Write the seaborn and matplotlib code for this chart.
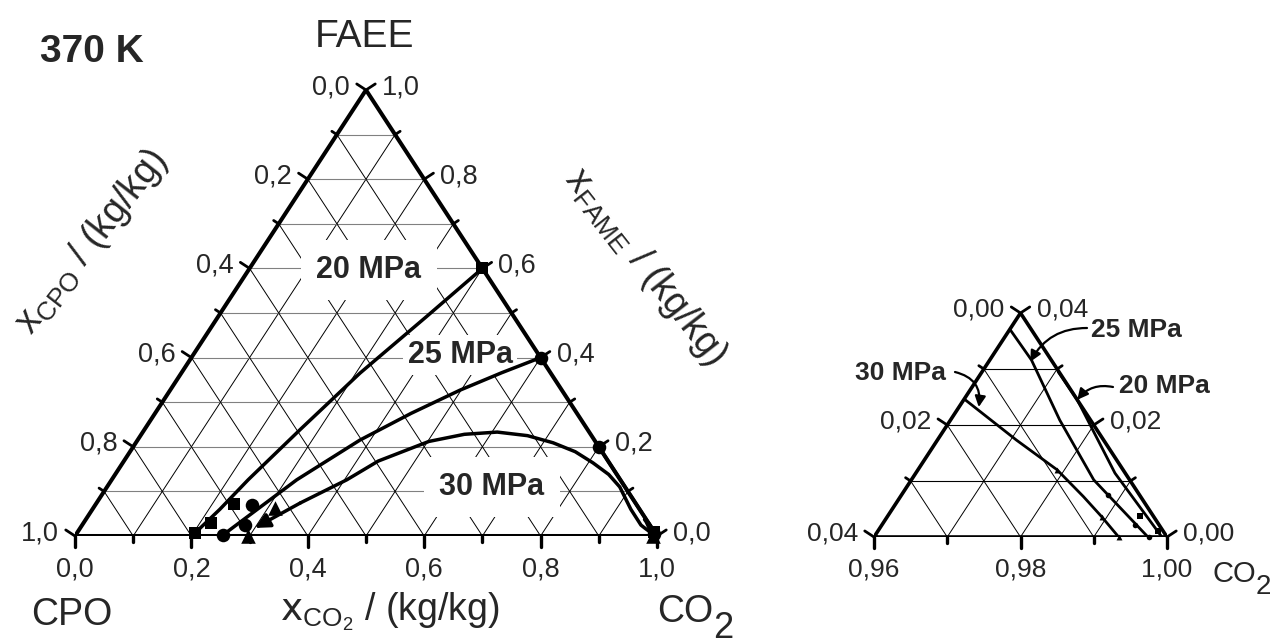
import matplotlib
matplotlib.use("Agg")
import numpy as np
import matplotlib.pyplot as plt
import seaborn as sns

sns.set_theme(style="white")
plt.rcParams["font.family"] = ["Liberation Sans", "DejaVu Sans"]
plt.rcParams["mathtext.fontset"] = "custom"
plt.rcParams["mathtext.rm"] = "Liberation Sans"
plt.rcParams["mathtext.it"] = "Liberation Sans"
plt.rcParams["mathtext.default"] = "regular"

# ---------------- data (mass fractions: x_CO2, x_FAEE) ----------------
# liquid-side branches (main diagram)
l20_co2 = [0.203, 0.219, 0.2345, 0.268, 0.307, 0.358, 0.40]
l20_faee = [0.007, 0.060, 0.126, 0.240, 0.365, 0.492, 0.60]
l25_co2 = [0.253, 0.318, 0.382, 0.440, 0.498, 0.550, 0.60]
l25_faee = [0.002, 0.126, 0.215, 0.275, 0.327, 0.366, 0.40]
l30_co2 = [0.300, 0.350, 0.404, 0.437, 0.502, 0.555, 0.609, 0.665, 0.717,
           0.765, 0.808, 0.848, 0.881, 0.925, 0.9602, 0.9708, 0.979, 0.985,
           0.9893, 0.9934]
l30_faee = [0.018, 0.074, 0.126, 0.168, 0.212, 0.228, 0.233, 0.225, 0.209,
            0.189, 0.164, 0.138, 0.110, 0.060, 0.0245, 0.0173, 0.012, 0.0072,
            0.0036, 0.0]
# vapour-side branches (CO2 corner)
v20_co2 = [0.9704, 0.9755, 0.9872, 0.9993]
v20_faee = [0.0295, 0.0245, 0.0114, 0.0]
v25_co2 = [0.9601, 0.9657, 0.9749, 0.9849, 0.9974]
v25_faee = [0.0370, 0.0316, 0.0209, 0.0102, 0.0]
# binary FAEE-CO2 edge branch
b_co2 = [0.80, 0.90, 0.96, 1.00]
b_faee = [0.20, 0.10, 0.04, 0.00]

# experimental points
sq_co2 = [0.203, 0.219, 0.237, 0.40, 0.990]
sq_faee = [0.007, 0.029, 0.072, 0.60, 0.008]
ci_co2 = [0.253, 0.280, 0.269, 0.60, 0.80, 0.992]
ci_faee = [0.002, 0.025, 0.070, 0.40, 0.20, 0.004]
tr_co2 = [0.297, 0.312, 0.993]
tr_faee = [0.000, 0.063, 0.000]
# points visible in the enlarged CO2 corner
isq_co2 = [0.9944, 0.9982]
isq_faee = [0.00375, 0.0011]
ici_co2 = [0.9882, 0.9946, 0.9975]
ici_faee = [0.0075, 0.0021, 0.0]
itr_co2 = [0.979, 0.9893, 0.9934]
itr_faee = [0.012, 0.0036, 0.0]

main_ticks = [0.0, 0.2, 0.4, 0.6, 0.8, 1.0]
inset_ticks = [0.00, 0.02, 0.04]
pressures = ["20 MPa", "25 MPa", "30 MPa"]
title = "370 K"


def cart(co2, faee):
    co2 = np.asarray(co2, float)
    faee = np.asarray(faee, float)
    return co2 + faee / 2.0, faee


W, H = 1283, 644
fig = plt.figure(figsize=(W / 100, H / 100), dpi=100)


def axes_px(x0, y0, x1, y1):
    return fig.add_axes([x0 / W, 1 - y1 / H, (x1 - x0) / W, (y1 - y0) / H])


def ftext(px, py, s, **kw):
    return fig.text(px / W, 1 - py / H, s, **kw)


def fmt(v, nd):
    return f"{v:.{nd}f}".replace(".", ",")


def draw_triangle(ax, a, L, sx, sy, nminor, ticks, nd, fs, hgray, edge_lw,
                  lab_major):
    # grid
    for k in range(1, nminor):
        f = k * L / nminor
        ax.plot([a + f / 2, a + L - f / 2], [f, f], color=hgray, lw=0.8, zorder=1)
        c = a + k * L / nminor
        x0, y0 = cart(c, 0)
        x1, y1 = cart(c, 1.0 - c)          # constant CO2 -> right edge
        ax.plot([x0, x1], [y0, y1], color="black", lw=0.7, zorder=1)
        x1, y1 = cart(a, c - a)            # constant CPO -> left edge
        ax.plot([x0, x1], [y0, y1], color="black", lw=0.7, zorder=1)
    # edges
    ax.plot([a, a + L, a + L / 2, a], [0, 0, L, 0], color="black",
            lw=edge_lw, zorder=5, solid_joinstyle="miter")
    # ticks
    dl = (-0.84, 0.55)
    dr = (0.84, 0.55)
    for k in range(nminor + 1):
        major = (k % lab_major) == 0
        ln = 11 if major else 6
        v = k * L / nminor
        ax.plot([a + v, a + v], [0, -ln / sy], color="black", lw=2.4,
                zorder=5, clip_on=False)
        x, y = a + v / 2, v
        ax.plot([x, x + dl[0] * ln / sx], [y, y + dl[1] * ln / sy],
                color="black", lw=2.0, zorder=5, clip_on=False)
        x2 = a + L - v / 2
        ax.plot([x2, x2 + dr[0] * ln / sx], [y, y + dr[1] * ln / sy],
                color="black", lw=2.0, zorder=5, clip_on=False)
    for i, t in enumerate(ticks):
        v = L * i / (len(ticks) - 1)
        ax.annotate(fmt(a + v, nd), xy=(a + v, 0), xytext=(0, -40),
                    textcoords="offset pixels", ha="center", va="baseline",
                    fontsize=fs, annotation_clip=False)
        ax.annotate(fmt(L - v, nd), xy=(a + v / 2, v), xytext=(-16, -4),
                    textcoords="offset pixels", ha="right", va="baseline",
                    fontsize=fs, annotation_clip=False)
        ax.annotate(fmt(v, nd), xy=(a + L - v / 2, v), xytext=(16, -4),
                    textcoords="offset pixels", ha="left", va="baseline",
                    fontsize=fs, annotation_clip=False)


# ---------------- main ternary ----------------
ax = axes_px(75, 90, 657, 536)
ax.set_xlim(0, 1)
ax.set_ylim(0, 1)
ax.axis("off")
draw_triangle(ax, 0.0, 1.0, 582.0, 446.0, 10, main_ticks, 1, 19.5,
              "#808080", 2.9, 2)

for c, f in [(l20_co2, l20_faee), (l25_co2, l25_faee), (l30_co2[1:], l30_faee[1:]),
             (v20_co2, v20_faee), (v25_co2, v25_faee), (b_co2, b_faee)]:
    x, y = cart(c, f)
    sns.lineplot(x=x, y=y, sort=False, estimator=None, color="black",
                 linewidth=2.5, ax=ax, zorder=6)
xa, ya = cart(l30_co2[:2], l30_faee[:2])
ax.annotate("", xy=(xa[0], ya[0]), xytext=(xa[1], ya[1]),
            arrowprops=dict(arrowstyle="-|>", color="black", lw=2.5,
                            mutation_scale=22, shrinkA=0, shrinkB=0), zorder=6)

x, y = cart(sq_co2, sq_faee)
sns.scatterplot(x=x, y=y, marker="s", s=80, color="black", edgecolor="black",
                linewidth=0, ax=ax, zorder=7, clip_on=False)
x, y = cart(ci_co2, ci_faee)
sns.scatterplot(x=x, y=y, marker="o", s=95, color="black", edgecolor="black",
                linewidth=0, ax=ax, zorder=7, clip_on=False)
x, y = cart(tr_co2, tr_faee)
sns.scatterplot(x=x, y=y, marker="^", s=110, color="black", edgecolor="black",
                linewidth=0, ax=ax, zorder=7, clip_on=False)


def atext(axx, px, py, s, **kw):
    # text placed in figure pixels but stacked with the axes artists
    return axx.text(px / W, 1 - py / H, s, transform=fig.transFigure, **kw)


box = dict(boxstyle="square,pad=0.5", fc="white", ec="none")
atext(ax, 369, 278, pressures[0], fontsize=22, fontweight="bold", ha="center",
      va="baseline", bbox=box, zorder=3)
atext(ax, 460, 363, pressures[1], fontsize=22, fontweight="bold", ha="center",
      va="baseline", bbox=dict(boxstyle="square,pad=0.15", fc="white", ec="none"),
      zorder=3)
atext(ax, 492, 495, pressures[2], fontsize=22, fontweight="bold", ha="center",
      va="baseline", bbox=box, zorder=3)

ftext(92, 62, title, fontsize=28, fontweight="bold", ha="center", va="baseline")
ftext(365, 47, "FAEE", fontsize=28, ha="center", va="baseline")
ftext(72, 625, "CPO", fontsize=27, ha="center", va="baseline")
ftext(657, 622, "CO", fontsize=27, ha="left", va="baseline")
ftext(713, 638, "2", fontsize=26, ha="left", va="baseline")
ftext(390, 612, r"$\mathsf{x}_{CO_2}$ / (kg/kg)", fontsize=27, ha="center",
      va="center")
ftext(92, 242, r"x$_{CPO}$ / (kg/kg)", fontsize=27, ha="center", va="center",
      rotation=52, rotation_mode="anchor")
ftext(645, 267, r"x$_{FAME}$ / (kg/kg)", fontsize=27, ha="center", va="center",
      rotation=-52, rotation_mode="anchor")

# ---------------- CO2 corner enlargement ----------------
axi = axes_px(874, 313, 1167, 537)
axi.set_xlim(0.96, 1.0)
axi.set_ylim(0, 0.04)
axi.axis("off")
draw_triangle(axi, 0.96, 0.04, 293 / 0.04, 224 / 0.04, 4, inset_ticks, 2, 19,
              "black", 2.6, 2)

for c, f in [(l30_co2[14:], l30_faee[14:]), (v20_co2, v20_faee),
             (v25_co2, v25_faee)]:
    x, y = cart(c, f)
    sns.lineplot(x=x, y=y, sort=False, estimator=None, color="black",
                 linewidth=2.0, ax=axi, zorder=6)
x, y = cart(isq_co2, isq_faee)
sns.scatterplot(x=x, y=y, marker="s", s=14, color="black", linewidth=0,
                ax=axi, zorder=7, clip_on=False)
x, y = cart(ici_co2, ici_faee)
sns.scatterplot(x=x, y=y, marker="o", s=16, color="black", linewidth=0,
                ax=axi, zorder=7, clip_on=False)
x, y = cart(itr_co2, itr_faee)
sns.scatterplot(x=x, y=y, marker="^", s=18, color="black", linewidth=0,
                ax=axi, zorder=7, clip_on=False)

arrow_targets = {"30 MPa": (0.9627, 0.0232), "25 MPa": (0.9657, 0.0313),
                 "20 MPa": (0.9755, 0.0245)}
label_pos = {"30 MPa": (900, 380, 955, 372, -0.45),
             "25 MPa": (1136, 337, 1087, 328, 0.3),
             "20 MPa": (1164, 393, 1113, 387, 0.3)}
for p in pressures:
    tx, ty, sxp, syp, rad = label_pos[p]
    ftext(tx, ty, p, fontsize=19, fontweight="bold", ha="center", va="baseline")
    xt, yt = cart(*arrow_targets[p])
    axi.annotate("", xy=(float(xt), float(yt)), xytext=(sxp, H - syp),
                 textcoords="figure pixels",
                 arrowprops=dict(arrowstyle="-|>", color="black", lw=1.6,
                                 mutation_scale=16, shrinkA=0, shrinkB=0,
                                 connectionstyle=f"arc3,rad={rad}"),
                 annotation_clip=False, zorder=8)

ftext(1212, 582, "CO", fontsize=21, ha="left", va="baseline")
ftext(1256, 594, "2", fontsize=20, ha="left", va="baseline")

fig.savefig("out.png", dpi=100)
